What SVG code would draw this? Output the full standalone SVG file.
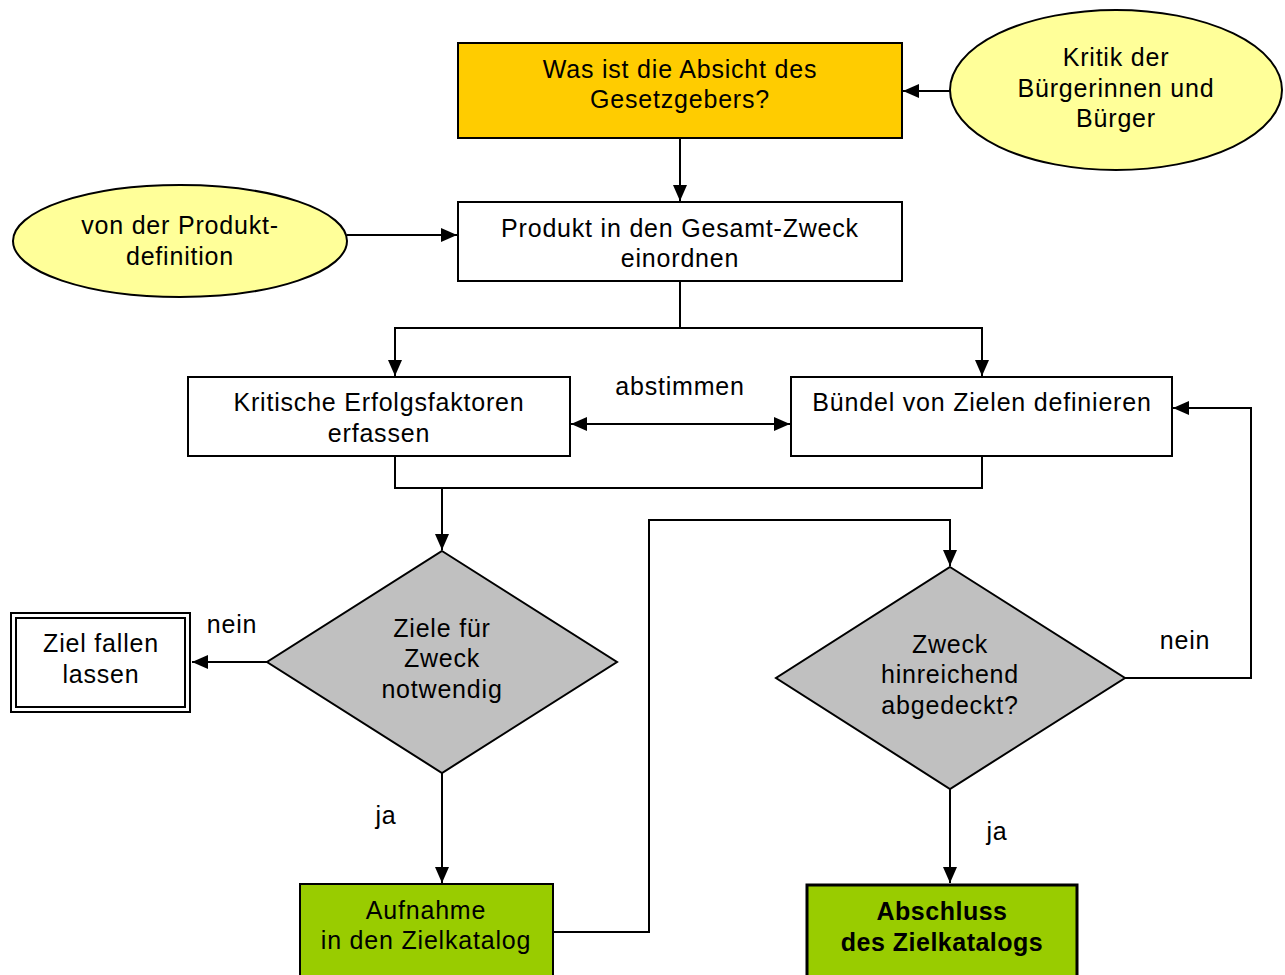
<svg xmlns="http://www.w3.org/2000/svg" width="1285" height="975" viewBox="0 0 1285 975">
  <style>
    text { font-family: "Liberation Sans", Arial, sans-serif; font-size: 25px; letter-spacing: 0.8px; fill: #000; text-anchor: middle; }
    .bold { font-weight: bold; letter-spacing: 0.5px; }
    .box { stroke: #000; stroke-width: 2; }
    .ell { fill: #FFFF99; stroke: #000; stroke-width: 2; }
    .dia { fill: #C0C0C0; stroke: #000; stroke-width: 2; }
    .conn { fill: none; stroke: #000; stroke-width: 2; }
  </style>
  <defs>
    <marker id="ah" viewBox="0 0 16 16" refX="16" refY="8" markerWidth="16" markerHeight="16" markerUnits="userSpaceOnUse" orient="auto-start-reverse">
      <path d="M0,1 L16,8 L0,15 z" fill="#000"/>
    </marker>
  </defs>

  <rect width="1285" height="975" fill="#fff"/>

  <g id="connectors">
    <path class="conn" d="M950,91 H903" marker-end="url(#ah)"/>
    <path class="conn" d="M680,138 V201" marker-end="url(#ah)"/>
    <path class="conn" d="M347,235 H457" marker-end="url(#ah)"/>
    <path class="conn" d="M680,281 V328 H395 V376" marker-end="url(#ah)"/>
    <path class="conn" d="M680,328 H982 V376" marker-end="url(#ah)"/>
    <path class="conn" d="M571,424 H790" marker-start="url(#ah)" marker-end="url(#ah)"/>
    <path class="conn" d="M395,456 V488 H982 V456"/>
    <path class="conn" d="M442,488 V550" marker-end="url(#ah)"/>
    <path class="conn" d="M267,662 H192" marker-end="url(#ah)"/>
    <path class="conn" d="M442,773 V883" marker-end="url(#ah)"/>
    <path class="conn" d="M553,932 H649 V520 H950 V566" marker-end="url(#ah)"/>
    <path class="conn" d="M1125,678 H1251 V408 H1173" marker-end="url(#ah)"/>
    <path class="conn" d="M950,789 V883" marker-end="url(#ah)"/>
    <text x="680" y="395">abstimmen</text>
    <text x="232" y="633">nein</text>
    <text x="386" y="824">ja</text>
    <text x="1185" y="649">nein</text>
    <text x="997" y="840">ja</text>
  </g>

  <g id="absicht">
    <rect class="box" x="458" y="43" width="444" height="95" fill="#FFCC00"/>
    <text x="680" y="78">Was ist die Absicht des</text>
    <text x="680" y="108">Gesetzgebers?</text>
  </g>

  <g id="kritik">
    <ellipse class="ell" cx="1116" cy="90" rx="166" ry="80"/>
    <text x="1116" y="66">Kritik der</text>
    <text x="1116" y="97">Bürgerinnen und</text>
    <text x="1116" y="127">Bürger</text>
  </g>

  <g id="produktdefinition">
    <ellipse class="ell" cx="180" cy="241" rx="167" ry="56"/>
    <text x="180" y="234">von der Produkt-</text>
    <text x="180" y="265">definition</text>
  </g>

  <g id="produkt">
    <rect class="box" x="458" y="202" width="444" height="79" fill="#fff"/>
    <text x="680" y="237">Produkt in den Gesamt-Zweck</text>
    <text x="680" y="267">einordnen</text>
  </g>

  <g id="erfolgsfaktoren">
    <rect class="box" x="188" y="377" width="382" height="79" fill="#fff"/>
    <text x="379" y="411">Kritische Erfolgsfaktoren</text>
    <text x="379" y="442">erfassen</text>
  </g>

  <g id="buendel">
    <rect class="box" x="791" y="377" width="381" height="79" fill="#fff"/>
    <text x="982" y="411">Bündel von Zielen definieren</text>
  </g>

  <g id="ziele-notwendig">
    <polygon class="dia" points="442,551 617,662 442,773 267,662"/>
    <text x="442" y="637">Ziele für</text>
    <text x="442" y="667">Zweck</text>
    <text x="442" y="698">notwendig</text>
  </g>

  <g id="ziel-fallen">
    <rect x="11" y="613" width="179" height="99" fill="#fff" stroke="#000" stroke-width="2"/>
    <rect x="16" y="618" width="169" height="89" fill="none" stroke="#000" stroke-width="2"/>
    <text x="101" y="652">Ziel fallen</text>
    <text x="101" y="683">lassen</text>
  </g>

  <g id="zweck-abgedeckt">
    <polygon class="dia" points="950,567 1125,678 950,789 776,678"/>
    <text x="950" y="653">Zweck</text>
    <text x="950" y="683">hinreichend</text>
    <text x="950" y="714">abgedeckt?</text>
  </g>

  <g id="aufnahme">
    <rect class="box" x="300" y="884" width="253" height="100" fill="#99CC00"/>
    <text x="426" y="919">Aufnahme</text>
    <text x="426" y="949">in den Zielkatalog</text>
  </g>

  <g id="abschluss">
    <rect x="807" y="885" width="270" height="100" fill="#99CC00" stroke="#000" stroke-width="3"/>
    <text class="bold" x="942" y="920">Abschluss</text>
    <text class="bold" x="942" y="951">des Zielkatalogs</text>
  </g>
</svg>
